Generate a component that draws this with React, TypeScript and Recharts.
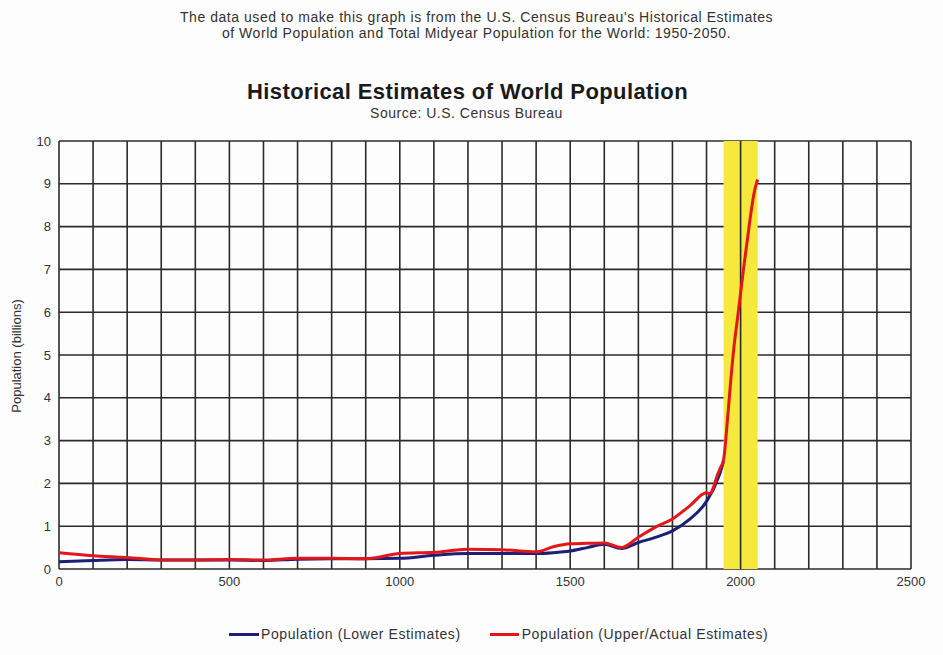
import React from "react";
import {
  LineChart,
  Line,
  XAxis,
  YAxis,
  CartesianGrid,
  ReferenceArea,
  ReferenceLine,
} from "recharts";

// years sampled along the curves
const years = [
  0, 100, 200, 300, 400, 500, 600, 700, 800, 900, 1000, 1100, 1200, 1300, 1400,
  1450, 1500, 1550, 1600, 1650, 1700, 1750, 1800, 1850, 1900, 1910, 1920, 1930,
  1940, 1950, 1960, 1970, 1980, 1990, 2000, 2010, 2020, 2030, 2040, 2050,
];

// billions, lower estimates (ends around 1950)
const lowerEstimates = [
  0.17, 0.2, 0.22, 0.21, 0.21, 0.21, 0.2, 0.23, 0.24, 0.24, 0.25, 0.32, 0.36,
  0.36, 0.36, 0.38, 0.42, 0.5, 0.58, 0.48, 0.62, 0.74, 0.89, 1.16, 1.58, 1.72,
  1.86, 2.05, 2.25, 2.52, null, null, null, null, null, null, null, null, null,
  null,
];

// billions, upper / actual estimates
const upperEstimates = [
  0.38, 0.31, 0.27, 0.21, 0.21, 0.22, 0.21, 0.25, 0.25, 0.24, 0.36, 0.39, 0.46,
  0.45, 0.4, 0.52, 0.59, 0.6, 0.61, 0.5, 0.74, 0.98, 1.17, 1.47, 1.78, 1.76,
  1.9, 2.15, 2.35, 2.55, 3.35, 4.3, 5.15, 5.8, 6.45, 7.1, 7.7, 8.3, 8.8, 9.1,
];

const xTicks = Array.from({ length: 26 }, (_, i) => i * 100);
const yTicks = [0, 1, 2, 3, 4, 5, 6, 7, 8, 9, 10];

const data = years.map((year, i) => ({
  year,
  lower: lowerEstimates[i],
  upper: upperEstimates[i],
}));

const font = "'Liberation Sans', Arial, Helvetica, sans-serif";
const BLUE = "#1b1f78";
const RED = "#e3161b";

export default function App() {
  return (
    <div
      style={{
        position: "absolute",
        left: 0,
        top: 0,
        width: 943,
        height: 655,
        background: "#fdfdfd",
        fontFamily: font,
        color: "#222",
      }}
    >
      <div
        style={{
          position: "absolute",
          top: 9,
          left: 0,
          width: 953,
          textAlign: "center",
          fontSize: 14,
          letterSpacing: 0.55,
          lineHeight: "16px",
          color: "#333",
        }}
      >
        The data used to make this graph is from the U.S. Census Bureau's Historical Estimates
        <br />
        of World Population and Total Midyear Population for the World: 1950-2050.
      </div>
      <div
        style={{
          position: "absolute",
          top: 79,
          left: 0,
          width: 935,
          textAlign: "center",
          fontSize: 22,
          letterSpacing: 0.4,
          fontWeight: "bold",
          color: "#1a1a1a",
        }}
      >
        Historical Estimates of World Population
      </div>
      <div
        style={{
          position: "absolute",
          top: 105,
          left: 0,
          width: 933,
          textAlign: "center",
          fontSize: 14,
          letterSpacing: 0.5,
          color: "#333",
        }}
      >
        Source: U.S. Census Bureau
      </div>
      <div
        style={{
          position: "absolute",
          left: 16,
          top: 356,
          transform: "translate(-50%, -50%) rotate(-90deg)",
          whiteSpace: "nowrap",
          fontSize: 13,
          color: "#333",
        }}
      >
        Population (billions)
      </div>

      <LineChart
        width={943}
        height={655}
        data={data}
        margin={{ top: 141, right: 32, bottom: 56, left: 0 }}
        style={{ position: "absolute", left: 0, top: 0 }}
      >
        <ReferenceArea x1={1950} x2={2050} y1={0} y2={10} fill="#f6e83c" fillOpacity={1} stroke="none" />
        <CartesianGrid stroke="#2b2b2b" strokeWidth={1.6} />
        <ReferenceLine x={2000} stroke="#2b2b2b" strokeWidth={1.6} />
        <XAxis
          dataKey="year"
          type="number"
          domain={[0, 2500]}
          ticks={xTicks}
          interval={0}
          tickFormatter={(v) => (v % 500 === 0 ? String(v) : "")}
          axisLine={false}
          tickLine={false}
          height={30}
          tick={{ fontSize: 13, fill: "#333", fontFamily: font }}
        />
        <YAxis
          type="number"
          domain={[0, 10]}
          ticks={yTicks}
          interval={0}
          axisLine={false}
          tickLine={false}
          width={59}
          tick={{ fontSize: 13, fill: "#333", fontFamily: font }}
        />
        <Line
          type="monotone"
          dataKey="lower"
          stroke={BLUE}
          strokeWidth={3}
          dot={false}
          isAnimationActive={false}
        />
        <Line
          type="monotone"
          dataKey="upper"
          stroke={RED}
          strokeWidth={3}
          dot={false}
          isAnimationActive={false}
        />
      </LineChart>

      <div
        style={{
          position: "absolute",
          top: 626,
          left: 229,
          display: "flex",
          alignItems: "center",
          fontSize: 14,
          letterSpacing: 0.6,
          color: "#333",
          whiteSpace: "nowrap",
        }}
      >
        <span style={{ display: "inline-block", width: 30, height: 3, background: BLUE, marginRight: 2 }} />
        <span>Population (Lower Estimates)</span>
        <span style={{ display: "inline-block", width: 29, height: 3, background: RED, marginLeft: 29, marginRight: 3 }} />
        <span>Population (Upper/Actual Estimates)</span>
      </div>
    </div>
  );
}
